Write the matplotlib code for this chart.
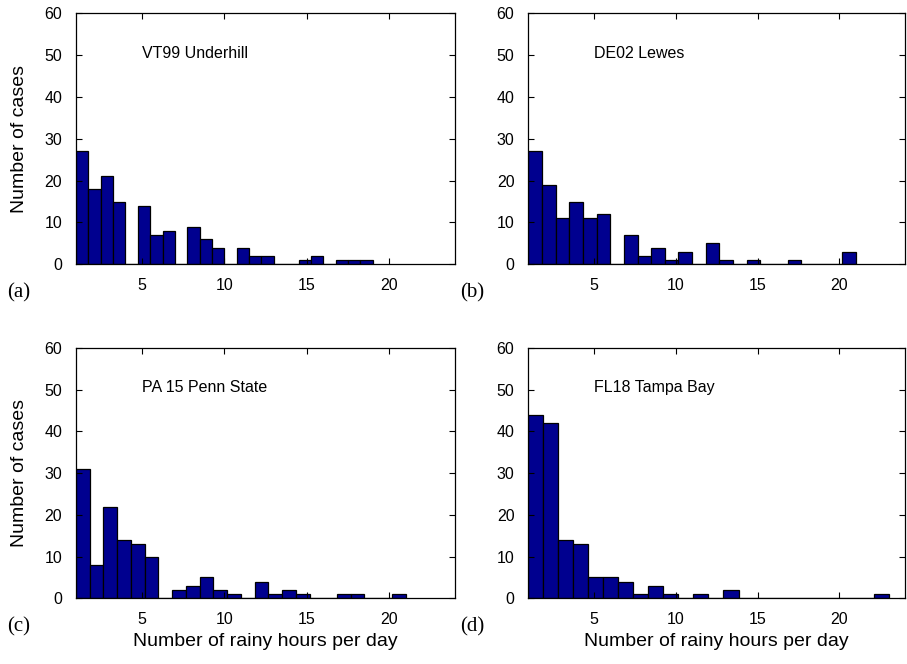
import numpy as np
import matplotlib
matplotlib.use("Agg")
import matplotlib.pyplot as plt

plt.rcParams['font.family'] = ['Liberation Sans', 'DejaVu Sans']

# station names and panel letters
stations = ['VT99 Underhill', 'DE02 Lewes', 'PA 15 Penn State', 'FL18 Tampa Bay']
letters = ['(a)', '(b)', '(c)', '(d)']

# data range (min, max rainy hours) of each station, 24 bins each
ranges = [(1, 19), (1, 21), (1, 21), (1, 23)]

# counts per bin
counts_vt = [27, 18, 21, 15, 0, 14, 7, 8, 0, 9, 6, 4, 0, 4, 2, 2, 0, 0, 1, 2, 0, 1, 1, 1]
counts_de = [27, 19, 11, 15, 11, 12, 0, 7, 2, 4, 1, 3, 0, 5, 1, 0, 1, 0, 0, 1, 0, 0, 0, 3]
counts_pa = [31, 8, 22, 14, 13, 10, 0, 2, 3, 5, 2, 1, 0, 4, 1, 2, 1, 0, 0, 1, 1, 0, 0, 1]
counts_fl = [44, 42, 14, 13, 5, 5, 4, 1, 3, 1, 0, 1, 0, 2, 0, 0, 0, 0, 0, 0, 0, 0, 0, 1]
all_counts = [counts_vt, counts_de, counts_pa, counts_fl]

xticks = [5, 10, 15, 20]
yticks = [0, 10, 20, 30, 40, 50, 60]

fig = plt.figure(figsize=(9.07, 6.64), dpi=100)

# axes boxes in figure fractions
boxes = [
    [0.0838, 0.602, 0.418, 0.378],
    [0.5825, 0.602, 0.4153, 0.378],
    [0.0838, 0.0989, 0.418, 0.377],
    [0.5825, 0.0989, 0.4153, 0.377],
]

for i in range(4):
    ax = fig.add_axes(boxes[i])
    lo, hi = ranges[i]
    counts = all_counts[i]
    edges = np.linspace(lo, hi, len(counts) + 1)
    ax.bar(edges[:-1], counts, width=np.diff(edges), align='edge',
           color='#00008F', edgecolor='black', linewidth=0.9)

    ax.set_xlim(1, 24)
    ax.set_ylim(0, 60)
    ax.set_xticks(xticks)
    ax.set_yticks(yticks)
    ax.tick_params(direction='in', length=4, width=0.8, labelsize=11.5,
                   top=True, right=True, pad=10)
    for s in ax.spines.values():
        s.set_linewidth(0.9)

    ax.text(5, 50.5, stations[i], fontsize=11.5, va='center', ha='left')

    if i % 2 == 0:
        ax.set_ylabel('Number of cases', fontsize=14, labelpad=12)
    if i >= 2:
        ax.set_xlabel('Number of rainy hours per day', fontsize=14, labelpad=4)

    # panel letter below the lower left corner
    ax.text(-0.182, -0.112, letters[i], transform=ax.transAxes,
            fontsize=15, family='Liberation Serif', va='center', ha='left')

fig.savefig('out.png', dpi=100)
